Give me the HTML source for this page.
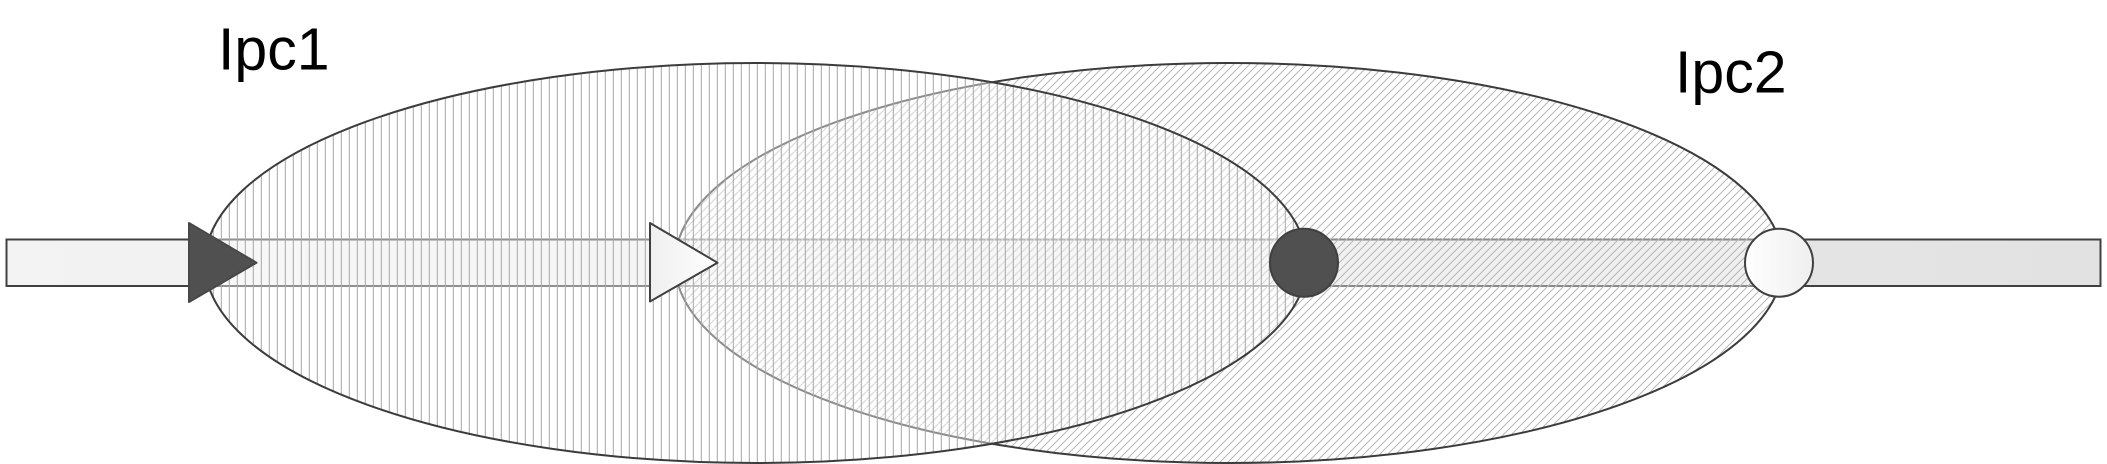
<!DOCTYPE html>
<html lang="en">
<head>
<meta charset="utf-8">
<title>Ipc1 and Ipc2 overlap diagram</title>
<style>
html,body{margin:0;padding:0;background:#fff;width:2107px;height:464px;overflow:hidden}
svg{display:block}
text{font-family:"Liberation Sans",sans-serif;font-size:59px;fill:#000}
</style>
</head>
<body>
<svg width="2107" height="464" viewBox="0 0 2107 464" xmlns="http://www.w3.org/2000/svg">
  <defs>
    <linearGradient id="barGrad" x1="0" x2="1" y1="0" y2="0">
      <stop offset="0" stop-color="#f3f3f3"/>
      <stop offset="1" stop-color="#e2e2e2"/>
    </linearGradient>
    <linearGradient id="lightTri" x1="0" x2="1" y1="0" y2="0">
      <stop offset="0" stop-color="#efefef"/>
      <stop offset="1" stop-color="#ffffff"/>
    </linearGradient>
    <linearGradient id="lightCirc" x1="0" x2="1" y1="0" y2="0">
      <stop offset="0" stop-color="#ffffff"/>
      <stop offset="1" stop-color="#efefef"/>
    </linearGradient>
    <pattern id="hatchVert" patternUnits="userSpaceOnUse" width="8" height="8" patternTransform="translate(1.3 0)">
      <rect x="3.5" y="0" width="1" height="8" fill="#a6a6a6"/>
    </pattern>
    <pattern id="hatchDiag" patternUnits="userSpaceOnUse" width="8" height="8" patternTransform="translate(2 0)">
      <path d="M-2 10L10 -2M-2 2L2 -2M6 10L10 6" stroke="#bababa" stroke-width="1.1" fill="none"/>
    </pattern>
  </defs>

  <rect x="6.5" y="239.5" width="2094" height="46.5" fill="url(#barGrad)" stroke="#404040" stroke-width="2"/>

  <g>
    <ellipse cx="1229" cy="263" rx="554" ry="200" fill="#ffffff" fill-opacity="0.38"/>
    <ellipse cx="1229" cy="263" rx="554" ry="200" fill="url(#hatchDiag)" stroke="#3c3c3c" stroke-width="2"/>
  </g>

  <g>
    <ellipse cx="756" cy="263" rx="551" ry="200" fill="#ffffff" fill-opacity="0.42"/>
    <ellipse cx="756" cy="263" rx="551" ry="200" fill="url(#hatchVert)" stroke="#3c3c3c" stroke-width="2"/>
  </g>

  <polygon points="189,223 256.5,262.7 189,302" fill="#505050" stroke="#484848" stroke-width="2" stroke-linejoin="round"/>
  <polygon points="650,223 717.5,262.7 650,301.5" fill="url(#lightTri)" stroke="#404040" stroke-width="2" stroke-linejoin="round"/>
  <circle cx="1304" cy="262.7" r="34" fill="#505050" stroke="#404040" stroke-width="2"/>
  <circle cx="1779" cy="262.7" r="34" fill="url(#lightCirc)" stroke="#404040" stroke-width="2"/>

  <text x="218" y="69.5">Ipc1</text>
  <text x="1675" y="92.7">Ipc2</text>
</svg>
</body>
</html>
